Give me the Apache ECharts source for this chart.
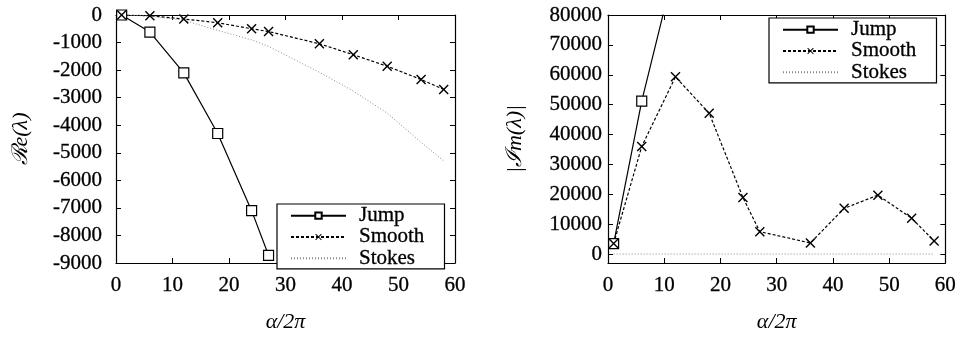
<!DOCTYPE html>
<html>
<head>
<meta charset="utf-8">
<script src="https://cdn.jsdelivr.net/npm/echarts@6/dist/echarts.min.js"></script>
<style>
  html, body { margin: 0; padding: 0; background: #fff; }
  #chart { width: 959px; height: 338px; }
</style>
</head>
<body>
<div id="chart"></div>
<script>
// alpha/2pi sample points
const alpha = [1, 6, 12, 18, 24, 27, 36, 42, 48, 54, 58]

// left panel: real part
const reJump = [0, -620, -2100, -4300, -7100, -8720]
const reSmooth = [0, -25, -145, -280, -500, -600, -1045, -1440, -1860, -2340, -2700]
const reStokes = [0, -40, -190, -560, -900, -1140, -2080, -2760, -3560, -4620, -5300]
const reTicks = [0, -1000, -2000, -3000, -4000, -5000, -6000, -7000, -8000, -9000]

// right panel: |imaginary part|
const imJump = [3500, 51200, 97000]
const imSmooth = [3500, 36000, 59300, 47100, 18900, 7500, 3700, 15300, 19700, 12000, 4400]
const imStokes = [0, 0, 0, 0, 0, 0, 0, 0, 0, 0, 0]
const imTicks = [0, 10000, 20000, 30000, 40000, 50000, 60000, 70000, 80000]

const names = ['Jump', 'Smooth', 'Stokes']

const pair = (xs, ys) => ys.map((y, i) => [xs[i], y])

const FONT = 'Liberation Serif'
const label = { color: '#000', fontFamily: FONT, fontSize: 21, textBorderColor: '#000', textBorderWidth: 0.3 }
const crossPath = 'path://M0,1L1,0L5,4L9,0L10,1L6,5L10,9L9,10L5,6L1,10L0,9L4,5Z'
const plain = (v) => String(v)

function series(name, data, g) {
  const base = {
    name,
    type: 'line',
    data,
    xAxisIndex: g * 2,
    yAxisIndex: g * 2,
    clip: true,
    animation: false,
    silent: true,
  }
  if (name === 'Jump') {
    return { ...base, symbol: 'rect', symbolSize: 10,
      itemStyle: { color: '#fff', borderColor: '#000', borderWidth: 1.2 },
      lineStyle: { color: '#000', width: 1.2, type: 'solid' } }
  }
  if (name === 'Smooth') {
    return { ...base, symbol: crossPath, symbolSize: 10,
      itemStyle: { color: '#000', borderWidth: 0 },
      lineStyle: { color: '#000', width: 1.2, type: [3, 2] } }
  }
  return { ...base, symbol: 'none',
    itemStyle: { color: '#888' },
    lineStyle: { color: '#888', width: 1, type: [1, 2] } }
}

const axisLine = { show: true, onZero: false, lineStyle: { color: '#000', width: 1.2 } }

function xAxes(g) {
  const common = { type: 'value', gridIndex: g, min: 0, max: 60, interval: 10,
    axisLine,
    axisTick: { show: true, inside: true, length: 5, lineStyle: { color: '#000' } },
    splitLine: { show: false } }
  return [
    { ...common, position: 'bottom',
      axisLabel: { ...label, margin: 12, formatter: plain },
      name: 'α/2π', nameLocation: 'middle', nameGap: 48,
      nameTextStyle: { ...label, fontSize: 22, fontStyle: 'italic', textBorderWidth: 0 } },
    { ...common, position: 'top', axisLabel: { show: false } },
  ]
}

function yAxes(g, min, max, ticks, margin, name, nameGap) {
  const common = { type: 'value', gridIndex: g, min, max,
    axisLine,
    axisTick: { show: true, inside: true, length: 5, lineStyle: { color: '#000' }, customValues: ticks },
    splitLine: { show: false } }
  return [
    { ...common, position: 'left',
      axisLabel: { ...label, margin, customValues: ticks, formatter: plain },
      name, nameLocation: 'middle', nameGap, nameRotate: 90,
      nameTextStyle: { ...label, fontSize: 22, fontStyle: 'italic', textBorderWidth: 0 } },
    { ...common, position: 'right', axisLabel: { show: false } },
  ]
}

function legend(left, top) {
  return {
    data: names.map((n) => n === 'Stokes'
      ? { name: n, itemStyle: { color: 'rgba(0,0,0,0)', borderWidth: 0, opacity: 0 } }
      : { name: n }),
    orient: 'vertical',
    left, top,
    itemWidth: 55, itemHeight: 8, itemGap: 0,
    padding: [1, 20, 0, 13],
    borderColor: '#000', borderWidth: 1.2,
    backgroundColor: '#fff',
    selectedMode: false,
    textStyle: { ...label, padding: [0, 0, 0, 8], lineHeight: 20 },
  }
}

const chart = echarts.init(document.getElementById('chart'), null, { renderer: 'canvas' })
chart.setOption({
  backgroundColor: '#fff',
  animation: false,
  grid: [
    { left: 116, top: 15, width: 339, height: 250 },
    { left: 608, top: 15, width: 339, height: 250 },
  ],
  xAxis: [...xAxes(0), ...xAxes(1)],
  yAxis: [
    ...yAxes(0, -9000, 0, reTicks, 14, 'ℛe(λ)', 84),
    ...yAxes(1, -3000, 80000, imTicks, 6, '|ℐm(λ)|', 82),
  ],
  legend: [legend(277, 204), legend(769, 18)],
  series: [
    series('Jump', pair(alpha, reJump), 0),
    series('Smooth', pair(alpha, reSmooth), 0),
    series('Stokes', pair(alpha, reStokes), 0),
    series('Jump', pair(alpha, imJump), 1),
    series('Smooth', pair(alpha, imSmooth), 1),
    series('Stokes', pair(alpha, imStokes), 1),
  ],
})
</script>
</body>
</html>
